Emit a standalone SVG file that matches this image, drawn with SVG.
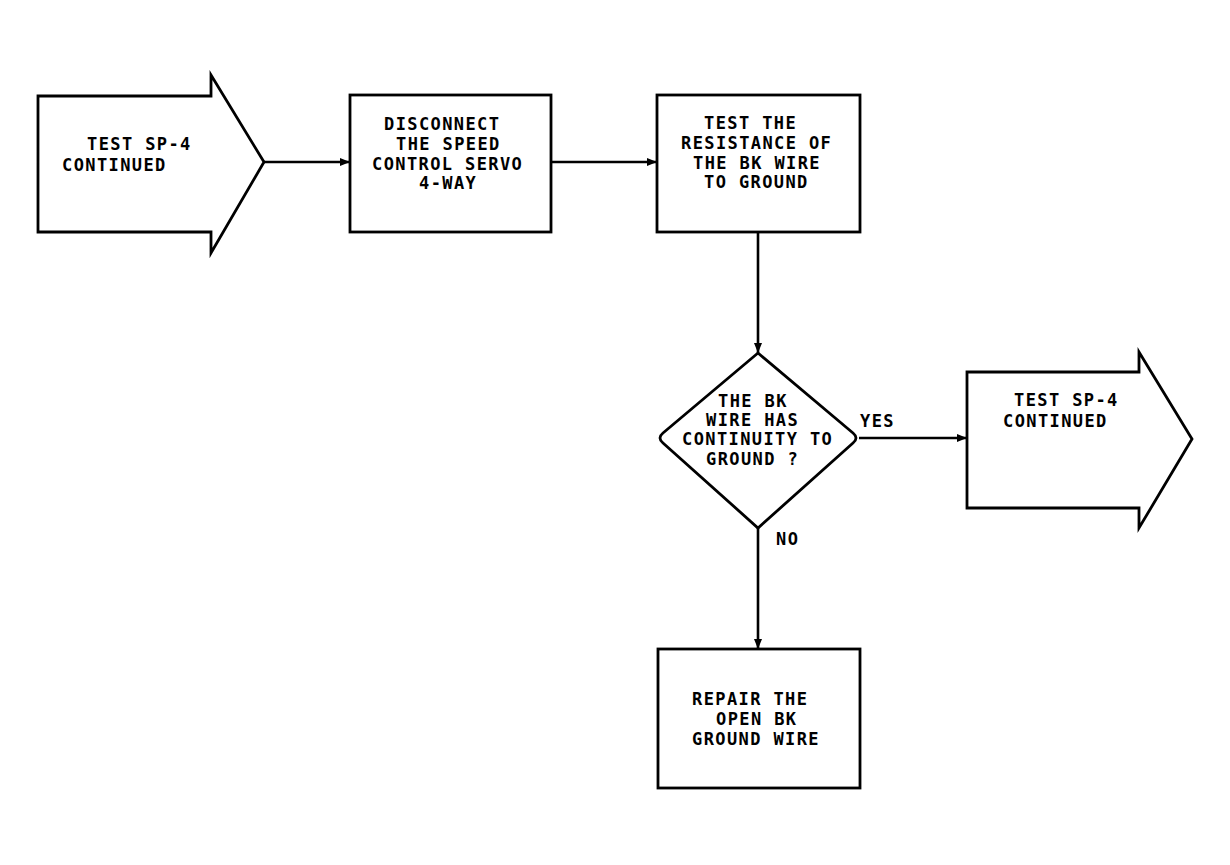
<svg xmlns="http://www.w3.org/2000/svg" width="1230" height="865" viewBox="0 0 1230 865">
<style>
.s{fill:#fff;stroke:#000;stroke-width:2.8;stroke-linejoin:miter}
.t{font-family:"DejaVu Sans Mono","Liberation Mono",monospace;font-weight:bold;font-size:17px;letter-spacing:1.4px;fill:#000}
.c{fill:none;stroke:#000;stroke-width:2.6}
</style>
<defs>
<marker id="ah" viewBox="0 0 10 8" refX="10" refY="4" markerWidth="10" markerHeight="8" markerUnits="userSpaceOnUse" orient="auto">
<path d="M0,0 L10,4 L0,8 Z" fill="#000"/>
</marker>
</defs>
<rect width="1230" height="865" fill="#fff"/>
<g id="n1">
<path class="s" d="M38,96 L211,96 L211,75 L264,162 L211,253 L211,232 L38,232 Z"/>
<text class="t" x="87" y="150">TEST SP-4</text>
<text class="t" x="62" y="171">CONTINUED</text>
</g>
<g id="n2">
<rect class="s" x="350" y="95" width="201" height="137"/>
<text class="t" x="384" y="130">DISCONNECT</text>
<text class="t" x="396" y="150">THE SPEED</text>
<text class="t" x="372" y="170">CONTROL SERVO</text>
<text class="t" x="419" y="189">4-WAY</text>
</g>
<g id="n3">
<rect class="s" x="657" y="95" width="203" height="137"/>
<text class="t" x="704" y="129">TEST THE</text>
<text class="t" x="681" y="149">RESISTANCE OF</text>
<text class="t" x="693" y="169">THE BK WIRE</text>
<text class="t" x="704" y="188">TO GROUND</text>
</g>
<g id="n4">
<path class="s" d="M758,353 L853,433 Q859,438 853,443 L758,528 L663,443 Q657,438 663,433 Z"/>
<text class="t" x="718" y="407">THE BK</text>
<text class="t" x="706" y="426">WIRE HAS</text>
<text class="t" x="682" y="445">CONTINUITY TO</text>
<text class="t" x="706" y="465">GROUND ?</text>
</g>
<g id="n5">
<path class="s" d="M967,372 L1139,372 L1139,352 L1192,439 L1139,528 L1139,508 L967,508 Z"/>
<text class="t" x="1014" y="406">TEST SP-4</text>
<text class="t" x="1003" y="427">CONTINUED</text>
</g>
<g id="n6">
<rect class="s" x="658" y="649" width="202" height="139"/>
<text class="t" x="692" y="705">REPAIR THE</text>
<text class="t" x="716" y="725">OPEN BK</text>
<text class="t" x="692" y="745">GROUND WIRE</text>
</g>
<g id="connectors">
<line class="c" x1="264" y1="162" x2="350" y2="162" marker-end="url(#ah)"/>
<line class="c" x1="551" y1="162" x2="657" y2="162" marker-end="url(#ah)"/>
<line class="c" x1="758" y1="232" x2="758" y2="353" marker-end="url(#ah)"/>
<line class="c" x1="859" y1="438" x2="967" y2="438" marker-end="url(#ah)"/>
<line class="c" x1="758" y1="528" x2="758" y2="649" marker-end="url(#ah)"/>
<text class="t" x="860" y="427">YES</text>
<text class="t" x="776" y="545">NO</text>
</g>
</svg>
